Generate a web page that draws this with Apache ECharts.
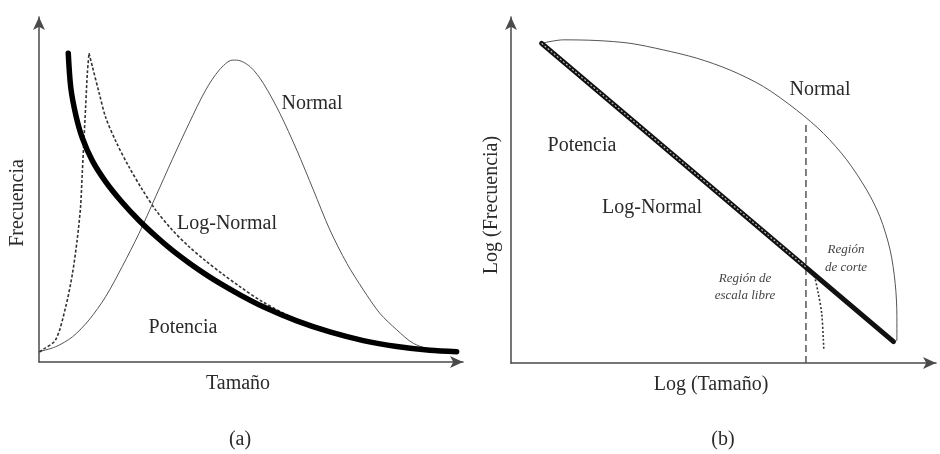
<!DOCTYPE html>
<html>
<head>
<meta charset="utf-8">
<script src="https://cdn.jsdelivr.net/npm/echarts@6/dist/echarts.min.js"></script>
<style>
  html, body { margin: 0; padding: 0; background: #ffffff; }
  #chart { width: 940px; height: 454px; }
</style>
</head>
<body>
<div id="chart"></div>
<script>
// panel (a): frecuencia vs tamaño, ejes de 0 a 100
const powerA = [[6.9, 89.5], [7.5, 79.5], [8.7, 71.5], [10.2, 65.0], [12.6, 58.3], [15.7, 52.3], [19.6, 46.3],
  [23.6, 41.0], [27.5, 36.5], [31.4, 32.4], [35.4, 28.7], [39.3, 25.4], [43.2, 22.4], [47.2, 19.6],
  [52.9, 16.0], [60.8, 11.9], [68.6, 8.7], [76.5, 6.2], [84.4, 4.5], [92.2, 3.4], [98.5, 3.0]]
const logNormalRiseA = [[0.1, 2.9], [0.8, 3.5], [3.9, 6.4], [6.3, 16.0], [7.9, 25.7], [9.0, 35.4], [9.8, 45.0],
  [10.2, 54.7], [10.6, 64.3], [11.0, 74.0], [11.4, 83.7], [11.8, 89.5]]
const logNormalFallA = [[11.8, 89.5], [12.6, 85.6], [14.2, 77.9], [15.7, 71.0], [18.1, 64.0], [21.2, 56.6],
  [24.4, 49.9], [27.5, 44.1], [31.4, 38.3], [35.4, 33.4], [39.3, 29.3], [43.2, 25.6], [47.2, 22.0],
  [52.8, 17.4], [60.8, 12.3], [68.6, 8.9], [76.4, 6.3], [87.5, 4.0]]
const normalA = [[0, 3.0], [3.9, 4.4], [7.9, 7.3], [11.8, 12.2], [15.7, 18.9], [19.6, 27.6], [23.6, 37.3],
  [27.5, 47.9], [31.4, 58.6], [35.4, 69.2], [39.3, 78.8], [42.5, 84.6], [45.6, 87.5], [46.6, 87.5],
  [49.8, 85.6], [52.9, 80.8], [56.8, 72.1], [60.8, 61.4], [64.7, 49.9], [68.6, 38.3], [72.6, 28.6],
  [76.5, 20.9], [80.4, 14.1], [84.4, 9.3], [88.3, 5.4], [93.8, 3.0]]

// panel (b): log-log
const powerB = [[7.2, 92.4], [90.0, 6.2]]
const logNormalOverlapB = [[7.2, 92.4], [69.4, 27.7]]
const logNormalCutB = [[69.4, 27.7], [71.1, 25.9], [72.3, 20.1], [73.1, 14.4], [73.5, 6.6], [73.6, 3.8]]
const normalB = [[7.2, 92.4], [12.3, 93.4], [20.2, 93.2], [28.0, 92.4], [35.8, 90.5], [43.7, 88.1],
  [51.5, 84.7], [59.4, 79.9], [67.2, 73.1], [73.5, 66.4], [79.0, 58.7], [83.7, 50.0], [86.8, 42.3],
  [89.2, 32.7], [90.4, 23.0], [90.8, 13.4], [90.8, 6.6], [90.0, 6.2]]
const cutoffLineB = [[69.4, 68.8], [69.4, 0]]

const font = '"Liberation Serif", "DejaVu Serif", serif'
const axisColor = '#4a4a4a'

const makeAxis = (gridIndex) => ({
  type: 'value',
  gridIndex,
  min: 0,
  max: 100,
  axisLine: {
    onZero: false,
    symbol: ['none', 'arrow'],
    symbolSize: [9, 13],
    lineStyle: { color: axisColor, width: 1.5 }
  },
  axisTick: { show: false },
  axisLabel: { show: false },
  splitLine: { show: false }
})

const line = (xi, data, style, smooth) => ({
  type: 'line',
  xAxisIndex: xi,
  yAxisIndex: xi,
  data,
  smooth,
  showSymbol: false,
  silent: true,
  lineStyle: style
})

const text = (x, y, str, extra = {}) => ({
  type: 'text',
  x,
  y,
  rotation: extra.rotation || 0,
  style: {
    text: str,
    font: (extra.italic ? 'italic ' : '') + (extra.size || 20) + 'px ' + font,
    fill: extra.color || '#2a2a2a',
    align: 'center',
    verticalAlign: 'middle',
    lineHeight: extra.lineHeight
  }
})

const chart = echarts.init(document.getElementById('chart'))

chart.setOption({
  animation: false,
  backgroundColor: '#ffffff',
  grid: [
    { left: 39, top: 17, width: 424, height: 345 },
    { left: 511, top: 17, width: 425, height: 346 }
  ],
  xAxis: [makeAxis(0), makeAxis(1)],
  yAxis: [makeAxis(0), makeAxis(1)],
  series: [
    line(0, normalA, { color: '#555', width: 1 }, 0.3),
    line(0, logNormalRiseA, { color: '#333', width: 1.6, type: [3, 2] }, 0.3),
    line(0, logNormalFallA, { color: '#333', width: 1.6, type: [3, 2] }, 0.3),
    line(0, powerA, { color: '#000', width: 5.5, cap: 'round' }, 0.3),

    line(1, normalB, { color: '#555', width: 1 }, 0.3),
    line(1, cutoffLineB, { color: '#555', width: 1.5, type: [7, 4] }, false),
    line(1, logNormalCutB, { color: '#333', width: 1.6, type: [2, 2] }, 0.3),
    line(1, powerB, { color: '#111', width: 5, cap: 'round' }, false),
    line(1, logNormalOverlapB, { color: '#bbb', width: 1.2, type: [2, 2] }, false)
  ],
  graphic: [
    text(312, 104, 'Normal'),
    text(227, 224, 'Log-Normal'),
    text(183, 328, 'Potencia'),
    text(18, 203, 'Frecuencia', { rotation: Math.PI / 2 }),
    text(238, 384, 'Tamaño'),
    text(240, 440, '(a)'),

    text(820, 90, 'Normal'),
    text(582, 146, 'Potencia'),
    text(652, 208, 'Log-Normal'),
    text(846, 259, 'Región\nde corte', { italic: true, size: 13, lineHeight: 18, color: '#444' }),
    text(745, 287, 'Región de\nescala libre', { italic: true, size: 13, lineHeight: 17, color: '#444' }),
    text(492, 205, 'Log (Frecuencia)', { rotation: Math.PI / 2 }),
    text(711, 385, 'Log (Tamaño)'),
    text(723, 440, '(b)')
  ]
})
</script>
</body>
</html>
